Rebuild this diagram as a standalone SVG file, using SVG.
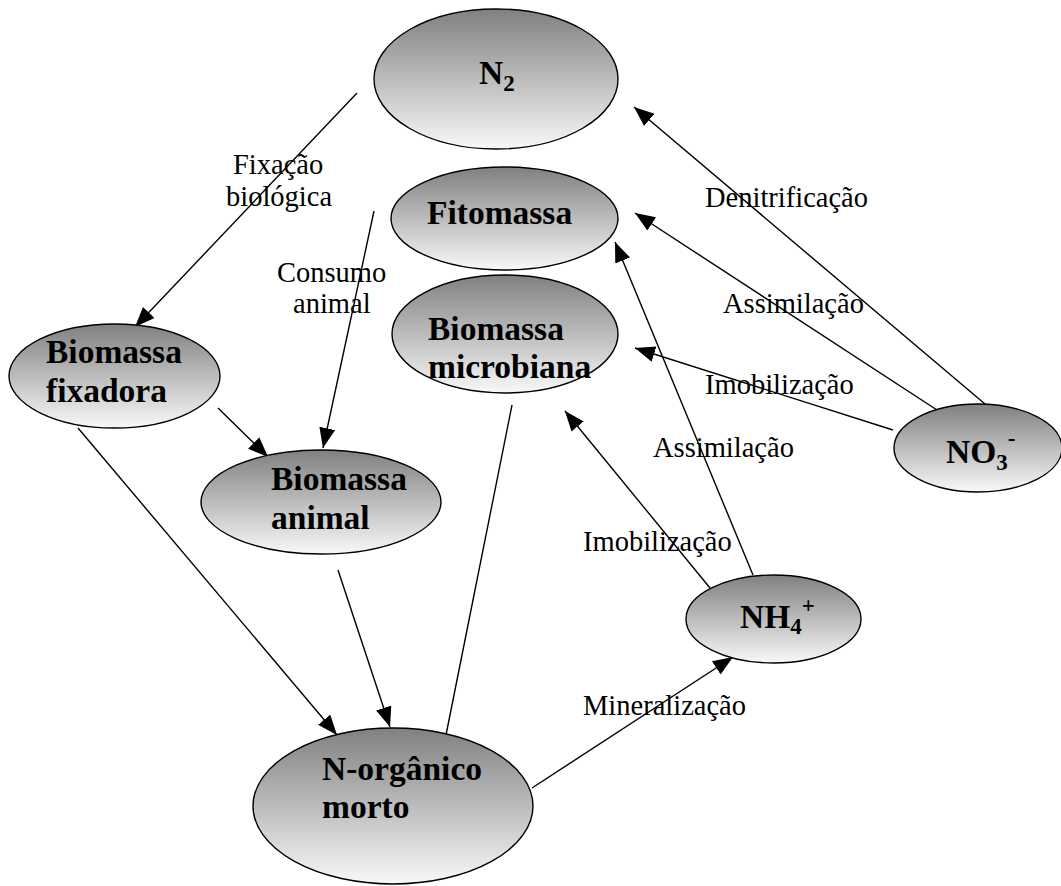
<svg xmlns="http://www.w3.org/2000/svg" width="1061" height="886" viewBox="0 0 1061 886">
<defs>
<linearGradient id="g" x1="0" y1="0" x2="0" y2="1">
<stop offset="0" stop-color="#808080"/>
<stop offset="1" stop-color="#f8f8f8"/>
</linearGradient>
<marker id="ah" markerUnits="userSpaceOnUse" markerWidth="22" markerHeight="18" refX="20" refY="8" orient="auto">
<path d="M0,0 L20,8 L0,16 z" fill="#000"/>
</marker>
<style>
.node ellipse{fill:url(#g);stroke:#000;stroke-width:1.4}
.nt{font-weight:bold;font-size:33.5px;fill:#000}
.sub{font-size:23px}
.lbl{font-size:28.5px;fill:#000}
.c line{stroke:#000;stroke-width:1.4}
.arr{marker-end:url(#ah)}
</style>
</defs>
<rect width="1061" height="886" fill="#fff"/>

<g id="connectors" class="c">
<line class="arr" x1="357" y1="93" x2="135" y2="327"/>
<line class="arr" x1="374" y1="211" x2="323" y2="448"/>
<line class="arr" x1="218" y1="408" x2="268" y2="457"/>
<line class="arr" x1="78" y1="428" x2="337" y2="735"/>
<line class="arr" x1="338" y1="570" x2="390" y2="727"/>
<line x1="512" y1="405" x2="446" y2="735"/>
<line class="arr" x1="532" y1="788" x2="733" y2="657"/>
<line class="arr" x1="710" y1="588" x2="565" y2="411"/>
<line class="arr" x1="753" y1="575" x2="615" y2="242"/>
<line class="arr" x1="893" y1="430" x2="635" y2="348"/>
<line class="arr" x1="937" y1="410" x2="635" y2="213"/>
<line class="arr" x1="985" y1="404" x2="634" y2="107"/>
</g>

<g font-family="Liberation Serif, Times New Roman, serif">
<g id="n2" class="node">
<ellipse cx="496" cy="79" rx="122" ry="70"/>
<text class="nt" x="479" y="84">N<tspan class="sub" y="91">2</tspan></text>
</g>
<g id="fitomassa" class="node">
<ellipse cx="504.5" cy="218.5" rx="113.5" ry="51.5"/>
<text class="nt" x="427" y="224">Fitomassa</text>
</g>
<g id="microbiana" class="node">
<ellipse cx="505" cy="334" rx="113" ry="59"/>
<text class="nt" x="428" y="340">Biomassa</text>
<text class="nt" x="428" y="378">microbiana</text>
</g>
<g id="fixadora" class="node">
<ellipse cx="114.5" cy="376" rx="105.5" ry="52"/>
<text class="nt" x="46" y="363">Biomassa</text>
<text class="nt" x="46" y="402">fixadora</text>
</g>
<g id="animal" class="node">
<ellipse cx="321" cy="502" rx="120" ry="52"/>
<text class="nt" x="271" y="490">Biomassa</text>
<text class="nt" x="271" y="529">animal</text>
</g>
<g id="norganico" class="node">
<ellipse cx="393" cy="806" rx="140" ry="78"/>
<text class="nt" x="322" y="780">N-orgânico</text>
<text class="nt" x="322" y="818">morto</text>
</g>
<g id="nh4" class="node">
<ellipse cx="773.5" cy="619" rx="87.5" ry="44"/>
<text class="nt" x="740" y="628">NH<tspan class="sub" y="634">4</tspan><tspan class="sub" y="613">+</tspan></text>
</g>
<g id="no3" class="node">
<ellipse cx="978" cy="448" rx="84" ry="44"/>
<text class="nt" x="946" y="463">NO<tspan class="sub" y="470">3</tspan><tspan class="sub" y="446">-</tspan></text>
</g>

<g id="labels">
<text class="lbl" x="233" y="174">Fixação</text>
<text class="lbl" x="226" y="206">biológica</text>
<text class="lbl" x="277" y="282">Consumo</text>
<text class="lbl" x="293" y="313">animal</text>
<text class="lbl" x="705" y="207">Denitrificação</text>
<text class="lbl" x="723" y="313">Assimilação</text>
<text class="lbl" x="705" y="394">Imobilização</text>
<text class="lbl" x="653" y="457">Assimilação</text>
<text class="lbl" x="583" y="551">Imobilização</text>
<text class="lbl" x="583" y="715">Mineralização</text>
</g>
</g>
</svg>
